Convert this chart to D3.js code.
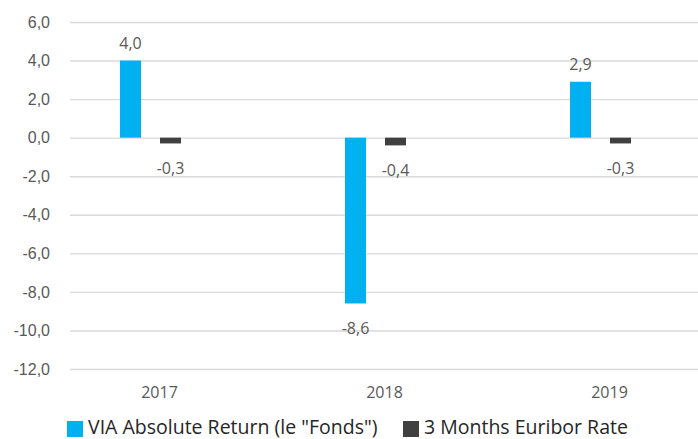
<!DOCTYPE html>
<html>
<head>
<meta charset="utf-8">
<script src="https://cdn.jsdelivr.net/npm/d3@7"></script>
<style>
  body { margin: 0; background: #fff; }
  svg { display: block; font-family: "Open Sans", sans-serif; }
</style>
</head>
<body>
<svg id="chart" width="698" height="439"></svg>
<script>
const years = ['2017', '2018', '2019'];
const seriesNames = ['VIA Absolute Return (le "Fonds")', '3 Months Euribor Rate'];
const fondsValues = [4.0, -8.6, 2.9];
const euriborValues = [-0.3, -0.4, -0.3];
const yTicks = [6, 4, 2, 0, -2, -4, -6, -8, -10, -12];
const colors = ['#00b0f0', '#404040'];

const svg = d3.select('#chart');
const fmt = d3.formatLocale({
  decimal: ',', thousands: '.', grouping: [3], currency: ['', ''], minus: '-'
}).format('.1f');

const plotLeft = 70;
const plotRight = 698;

const y = d3.scaleLinear()
  .domain([-12, 6])
  .range([369, 22]);

const x = d3.scaleBand()
  .domain(years)
  .range([38, 713]);

const xInner = d3.scaleBand()
  .domain(seriesNames)
  .range([-30.5, 30.5])
  .paddingInner(0.475);

const data = years.map((yr, i) => ({
  year: yr,
  values: [
    { name: seriesNames[0], value: fondsValues[i], color: colors[0] },
    { name: seriesNames[1], value: euriborValues[i], color: colors[1] }
  ]
}));

// gridlines + y labels
const yAxis = svg.append('g')
  .attr('transform', `translate(${plotLeft},0)`)
  .call(d3.axisLeft(y)
    .tickValues(yTicks)
    .tickSizeInner(-(plotRight - plotLeft))
    .tickSizeOuter(0)
    .tickPadding(20)
    .tickFormat(fmt));

yAxis.select('.domain').remove();
yAxis.selectAll('line')
  .attr('stroke', '#d9d9d9')
  .attr('stroke-width', 1.4);
yAxis.selectAll('text')
  .attr('fill', '#595959')
  .style('font-size', '16px');

// bars
const groups = svg.append('g')
  .selectAll('g')
  .data(data)
  .enter()
  .append('g')
  .attr('transform', d => `translate(${x(d.year) + x.bandwidth() / 2},0)`);

groups.selectAll('rect')
  .data(d => d.values)
  .enter()
  .append('rect')
  .attr('x', d => xInner(d.name))
  .attr('width', xInner.bandwidth())
  .attr('y', d => y(Math.max(0, d.value)))
  .attr('height', d => Math.abs(y(d.value) - y(0)))
  .attr('fill', d => d.color);

// value labels
groups.selectAll('text')
  .data(d => d.values)
  .enter()
  .append('text')
  .attr('x', d => xInner(d.name) + xInner.bandwidth() / 2)
  .attr('y', d => (d.value >= 0 ? y(d.value) - 17 : y(d.value) + 25))
  .attr('dy', '0.35em')
  .attr('text-anchor', 'middle')
  .attr('fill', '#595959')
  .style('font-size', '16px')
  .text(d => fmt(d.value));

// category labels
svg.append('g')
  .selectAll('text')
  .data(years)
  .enter()
  .append('text')
  .attr('x', d => x(d) + x.bandwidth() / 2 + 9)
  .attr('y', 392)
  .attr('dy', '0.35em')
  .attr('text-anchor', 'middle')
  .attr('fill', '#595959')
  .style('font-size', '16px')
  .text(d => d);

// legend
const legend = svg.append('g')
  .attr('transform', 'translate(67,420)');

const legendOffsets = [0, 336];

const items = legend.selectAll('g')
  .data(seriesNames)
  .enter()
  .append('g')
  .attr('transform', (d, i) => `translate(${legendOffsets[i]},0)`);

items.append('rect')
  .attr('y', 1)
  .attr('width', 16)
  .attr('height', 16)
  .attr('fill', (d, i) => colors[i]);

items.append('text')
  .attr('x', 21)
  .attr('y', 14)
  .attr('fill', '#262626')
  .style('font-size', '19.5px')
  .text(d => d);
</script>
</body>
</html>
